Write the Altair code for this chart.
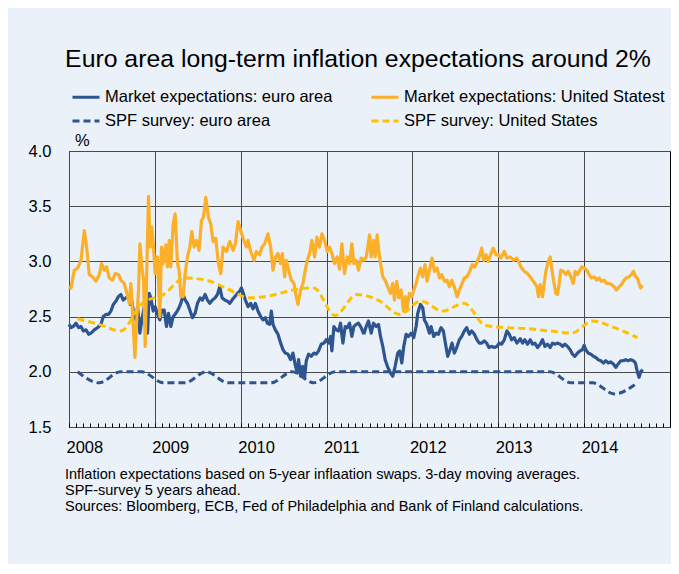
import altair as alt
import pandas as pd

# ---------------- data ----------------
START_YEAR = 2008
TRADING_DAYS_PER_YEAR = 258  # approx. trading days per calendar year

# Market expectations: euro area (trading-day index since 1 Jan 2008, % value)
euro_days = [0, 6, 13, 21, 29, 36, 43, 51, 59, 66, 76, 86, 96, 103, 111, 119, 126, 133, 141, 148,
             156, 163, 171, 179, 184, 189, 194, 201, 206, 213, 219, 226, 231, 236, 241, 246, 253, 259, 266, 273,
             279, 286, 293, 299, 306, 313, 321, 329, 336, 343, 349, 356, 363, 371, 379, 386, 394, 401, 409, 416,
             423, 431, 439, 446, 453,
             460, 468, 476, 483, 490, 498, 506, 513, 518, 524, 530, 538, 546, 553, 560, 568, 576, 583, 590, 596,
             603, 608, 613, 620, 628, 636, 643, 650, 658, 666, 673, 680, 686, 690, 696, 702, 708, 713, 720, 728,
             736, 743, 750, 758, 766, 773, 780, 786, 790, 796, 803, 810, 816, 823, 830, 836, 843, 850, 856, 863,
             870, 878, 886, 893,
             900, 908, 915, 923, 930, 936, 943, 950, 958, 966, 973, 980, 988, 994, 1000, 1006, 1013, 1020, 1028, 1036,
             1043, 1048, 1056, 1063, 1068, 1075, 1083, 1088, 1096, 1103, 1110, 1118, 1125, 1131, 1138, 1145, 1151, 1158, 1165, 1173,
             1180, 1188, 1195, 1203, 1210, 1218, 1226, 1233, 1240, 1248, 1255, 1262, 1270, 1278, 1286, 1293, 1300, 1308, 1316, 1323,
             1330, 1338, 1346,
             1356, 1363, 1370, 1378, 1386, 1393, 1400, 1408, 1416, 1423, 1430, 1438, 1446, 1453, 1460, 1468, 1476, 1483, 1490, 1498,
             1506, 1513, 1520, 1528, 1536, 1543, 1548, 1553, 1560, 1568, 1576, 1583, 1590, 1598, 1606, 1613, 1621, 1628, 1636, 1643,
             1650, 1658, 1666, 1673, 1680, 1688, 1696, 1702, 1708, 1713, 1718, 1724]
euro_vals = [2.43, 2.40, 2.41, 2.44, 2.40, 2.41, 2.37, 2.38, 2.34, 2.35, 2.38, 2.40, 2.43, 2.50, 2.52, 2.52, 2.55, 2.61, 2.64, 2.68,
             2.70, 2.65, 2.67, 2.68, 2.61, 2.64, 2.53, 2.47, 2.59, 2.35, 2.47, 2.59, 2.47, 2.35, 2.71, 2.67, 2.55, 2.59, 2.52, 2.47,
             2.56, 2.56, 2.41, 2.53, 2.41, 2.50, 2.53, 2.57, 2.62, 2.70, 2.65, 2.62, 2.56, 2.49, 2.53, 2.62, 2.67, 2.65, 2.70, 2.65,
             2.62, 2.65, 2.67, 2.70, 2.77,
             2.67, 2.65, 2.64, 2.62, 2.65, 2.68, 2.71, 2.73, 2.76, 2.71, 2.65, 2.59, 2.62, 2.57, 2.62, 2.55, 2.50, 2.47, 2.49, 2.44,
             2.43, 2.55, 2.43, 2.38, 2.34, 2.26, 2.20, 2.17, 2.16, 2.11, 2.17, 2.06, 1.99, 2.11, 1.96, 2.05, 1.95, 2.10, 2.16, 2.14,
             2.17, 2.16, 2.19, 2.25, 2.26, 2.29, 2.26, 2.32, 2.19, 2.41, 2.38, 2.37, 2.44, 2.26, 2.41, 2.40, 2.44, 2.32, 2.41, 2.43,
             2.44, 2.40, 2.34, 2.41,
             2.46, 2.35, 2.44, 2.41, 2.43, 2.32, 2.23, 2.11, 2.04, 1.99, 1.96, 2.05, 2.17, 2.19, 2.08, 2.23, 2.34, 2.32, 2.35, 2.31,
             2.41, 2.53, 2.61, 2.58, 2.47, 2.43, 2.35, 2.41, 2.32, 2.35, 2.34, 2.40, 2.37, 2.26, 2.14, 2.20, 2.26, 2.17, 2.22, 2.29,
             2.32, 2.37, 2.40, 2.34, 2.37, 2.34, 2.29, 2.26, 2.26, 2.28, 2.26, 2.22, 2.23, 2.22, 2.23, 2.26, 2.25, 2.29, 2.37, 2.34,
             2.29, 2.31, 2.26,
             2.30, 2.26, 2.29, 2.25, 2.29, 2.25, 2.26, 2.22, 2.25, 2.29, 2.23, 2.25, 2.22, 2.26, 2.25, 2.26, 2.25, 2.23, 2.25, 2.23,
             2.20, 2.16, 2.14, 2.17, 2.19, 2.20, 2.24, 2.20, 2.17, 2.16, 2.14, 2.13, 2.11, 2.10, 2.08, 2.10, 2.08, 2.09, 2.07, 2.04,
             2.07, 2.10, 2.10, 2.11, 2.10, 2.11, 2.10, 2.08, 2.00, 1.95, 2.00, 2.02]

# Market expectations: United States
us_days = [0, 6, 16, 26, 36, 46, 53, 61, 71, 81, 91, 98, 106, 113, 121, 131, 139, 149, 156, 166,
           174, 181, 186, 191, 198, 203, 209, 213, 219, 224, 229, 233, 239, 244, 249, 254, 259, 266, 273, 278,
           283, 291, 296, 301, 306, 313, 319, 326, 331, 336, 343, 349, 356, 363, 369, 376, 383, 391, 398, 404,
           411, 419, 426, 433, 441, 449, 456,
           463, 473, 483, 493, 500, 508, 516, 523, 533, 538, 546, 556, 563, 573, 580, 588, 598, 606, 613, 621,
           628, 636, 641, 648, 653, 660, 668, 676, 681, 688, 696, 703, 710, 716, 723, 730, 738, 745, 753, 760,
           768, 776, 783, 790, 798, 806, 813, 820, 828, 836, 843, 850, 856, 863, 870, 878, 886, 893,
           898, 903, 908, 915, 920, 926, 933, 938, 943, 950, 958, 966, 973, 978, 985, 991, 998, 1005, 1011, 1016,
           1023, 1030, 1036, 1043, 1050, 1056, 1063, 1070, 1076, 1083, 1091, 1098, 1106, 1113, 1120, 1128, 1136, 1143, 1150, 1158,
           1166, 1173, 1180, 1188, 1196, 1204, 1212, 1220, 1228, 1235, 1240, 1246, 1253, 1260, 1268, 1275, 1283, 1291, 1298, 1308,
           1316, 1326, 1336, 1346,
           1358, 1368, 1378, 1386, 1393, 1400, 1406, 1411, 1416, 1423, 1428, 1433, 1440, 1446, 1450, 1456, 1463, 1468, 1473, 1478,
           1486, 1493, 1500, 1508, 1515, 1521, 1528, 1535, 1541, 1548, 1556, 1563, 1570, 1578, 1586, 1593, 1600, 1608, 1616, 1623,
           1630, 1638, 1645, 1653, 1660, 1668, 1675, 1683, 1690, 1696, 1703, 1708, 1713, 1718, 1724]
us_vals = [2.77, 2.76, 2.92, 2.94, 3.01, 3.28, 3.13, 2.88, 2.86, 2.82, 2.88, 2.98, 2.92, 2.95, 2.85, 2.83, 2.89, 2.88, 2.83, 2.80,
           2.71, 2.62, 2.80, 2.53, 2.13, 2.44, 2.74, 3.16, 2.95, 2.83, 2.23, 2.83, 3.59, 3.13, 3.31, 3.13, 2.89, 3.04, 2.50, 3.13,
           2.98, 3.15, 2.95, 3.19, 2.95, 3.34, 3.43, 2.98, 2.92, 2.68, 2.68, 2.89, 3.04, 3.13, 3.27, 3.13, 3.19, 3.10, 3.37, 3.40,
           3.58, 3.40, 3.34, 3.18, 3.21, 2.98, 2.89,
           3.13, 3.09, 3.18, 3.10, 3.16, 3.36, 3.28, 3.21, 3.13, 3.19, 3.09, 3.01, 3.09, 3.06, 3.13, 3.16, 3.25, 3.13, 2.92, 3.04,
           3.07, 2.98, 3.07, 2.86, 3.01, 2.92, 2.83, 2.80, 2.71, 2.61, 2.74, 2.80, 2.92, 3.01, 3.07, 3.19, 3.04, 3.22, 3.13, 3.25,
           3.19, 3.09, 3.13, 3.07, 2.98, 3.04, 2.93, 3.16, 2.89, 3.04, 2.98, 3.16, 2.98, 3.01, 2.92, 3.03, 3.01, 3.04,
           3.13, 3.24, 3.04, 3.19, 3.04, 3.24, 3.04, 2.95, 2.86, 2.83, 2.77, 2.71, 2.80, 2.65, 2.82, 2.67, 2.74, 2.55, 2.68, 2.58,
           2.71, 2.68, 2.74, 2.80, 2.88, 2.94, 2.86, 2.97, 2.82, 2.92, 3.03, 2.91, 2.94, 2.85, 2.88, 2.82, 2.83, 2.77, 2.83, 2.77,
           2.68, 2.74, 2.79, 2.85, 2.86, 2.91, 2.97, 2.95, 3.01, 3.06, 3.12, 3.01, 3.06, 3.00, 3.07, 3.12, 3.06, 3.06, 3.03, 3.09,
           3.03, 3.04, 3.01, 3.03,
           2.95, 2.91, 2.89, 2.86, 2.83, 2.80, 2.77, 2.68, 2.79, 2.68, 2.80, 2.91, 3.00, 3.04, 2.95, 2.83, 2.71, 2.70, 2.80, 2.92,
           2.91, 2.88, 2.91, 2.86, 2.80, 2.91, 2.88, 2.92, 2.95, 2.94, 2.92, 2.88, 2.85, 2.86, 2.83, 2.85, 2.82, 2.83, 2.80, 2.80,
           2.79, 2.77, 2.74, 2.77, 2.79, 2.83, 2.85, 2.86, 2.88, 2.91, 2.86, 2.85, 2.80, 2.76, 2.78]

# SPF surveys (quarterly, decimal year)
spf_dates = [2008.10, 2008.35, 2008.60, 2008.85, 2009.10, 2009.35, 2009.60, 2009.85, 2010.10, 2010.35,
             2010.60, 2010.85, 2011.10, 2011.35, 2011.60, 2011.85, 2012.10, 2012.35, 2012.60, 2012.85,
             2013.10, 2013.35, 2013.60, 2013.85, 2014.10, 2014.35, 2014.62]
spf_euro = [2.0, 1.9, 2.0, 2.0, 1.9, 1.9, 2.0, 1.9, 1.9, 1.9,
            2.0, 1.9, 2.0, 2.0, 2.0, 2.0, 2.0, 2.0, 2.0, 2.0,
            2.0, 2.0, 2.0, 1.9, 1.9, 1.8, 1.9]
spf_us = [2.48, 2.43, 2.37, 2.62, 2.70, 2.85, 2.83, 2.75, 2.67, 2.69,
          2.74, 2.76, 2.51, 2.70, 2.65, 2.52, 2.64, 2.55, 2.62, 2.42,
          2.40, 2.39, 2.37, 2.35, 2.46, 2.40, 2.31]

SERIES = ["Market expectations: euro area", "Market expectations: United Statest",
          "SPF survey: euro area", "SPF survey: United States"]
COLORS = ["#2F5590", "#FCAF28", "#2F5590", "#FFC000"]
DASHES = [[1, 0], [1, 0], [7, 4], [7, 4]]

YEARS = [2008, 2009, 2010, 2011, 2012, 2013, 2014]
MONTHS = [2008 + k / 12 for k in range(85)]
Y_TICKS = [1.5, 2.0, 2.5, 3.0, 3.5, 4.0]

TITLE = "Euro area long-term inflation expectations around 2%"
NOTES = ("Inflation expectations based on 5-year inflaation swaps. 3-day moving averages.\n"
         "SPF-survey 5 years ahead.\n"
         "Sources: Bloomberg, ECB, Fed of Philadelphia and Bank of Finland calculations.")

# ---------------- tables ----------------
market = pd.concat([
    pd.DataFrame({"year": [START_YEAR + d / TRADING_DAYS_PER_YEAR for d in euro_days],
                  "value": euro_vals, "series": SERIES[0]}),
    pd.DataFrame({"year": [START_YEAR + d / TRADING_DAYS_PER_YEAR for d in us_days],
                  "value": us_vals, "series": SERIES[1]}),
])
survey = pd.concat([
    pd.DataFrame({"year": spf_dates, "value": spf_euro, "series": SERIES[2]}),
    pd.DataFrame({"year": spf_dates, "value": spf_us, "series": SERIES[3]}),
])

W, H = 601, 276
FONT = "Liberation Sans"

x_scale = alt.Scale(domain=[2008, 2015], nice=False, zero=False)
y_scale = alt.Scale(domain=[1.5, 4.0], nice=False, zero=False)
color_scale = alt.Scale(domain=SERIES, range=COLORS)
dash_scale = alt.Scale(domain=SERIES, range=DASHES)

legend = alt.Legend(title=None, orient="none", legendX=2, legendY=-69, columns=2, direction="horizontal",
                    symbolType="stroke", symbolSize=729, symbolStrokeWidth=3,
                    labelFontSize=16.5, labelFont=FONT, labelColor="black", labelOffset=4,
                    columnPadding=32, rowPadding=-6, labelLimit=400)

main_x_axis = alt.Axis(orient="bottom", values=YEARS, format="d", grid=True, ticks=False, domain=False,
                       labelAlign="left", labelOffset=-3, labelPadding=12, labelFontSize=16.5,
                       title=None)
y_axis = alt.Axis(values=Y_TICKS, format=".1f", grid=True, ticks=False, domain=False,
                  labelPadding=18, labelFontSize=16.5, title=None)
minor_x_axis = alt.Axis(orient="top", offset=-H, values=MONTHS,
                        ticks=True, tickSize=4, tickColor="black", tickWidth=1,
                        labels=False, domain=False, grid=False, title=None)

market_lines = alt.Chart(market).mark_line(strokeWidth=3.2, strokeJoin="round").encode(
    x=alt.X("year:Q", scale=x_scale, axis=main_x_axis),
    y=alt.Y("value:Q", scale=y_scale, axis=y_axis),
    color=alt.Color("series:N", scale=color_scale, legend=legend),
    strokeDash=alt.StrokeDash("series:N", scale=dash_scale, legend=legend),
    detail="series:N",
)

survey_lines = alt.Chart(survey).mark_line(strokeWidth=3, interpolate="monotone").encode(
    x=alt.X("year:Q", scale=x_scale, axis=minor_x_axis),
    y=alt.Y("value:Q", scale=y_scale, axis=y_axis),
    color=alt.Color("series:N", scale=color_scale, legend=legend),
    strokeDash=alt.StrokeDash("series:N", scale=dash_scale, legend=legend),
    detail="series:N",
)

title_text = alt.Chart(pd.DataFrame({"t": [TITLE]})).mark_text(
    font=FONT, fontSize=24.8, align="center", baseline="middle", color="black"
).encode(text="t:N", x=alt.value(289), y=alt.value(-91))

pct_text = alt.Chart(pd.DataFrame({"t": ["%"]})).mark_text(
    font=FONT, fontSize=16.5, align="left", baseline="middle", color="black"
).encode(text="t:N", x=alt.value(6), y=alt.value(-10))

notes_text = alt.Chart(pd.DataFrame({"t": [NOTES]})).mark_text(
    font=FONT, fontSize=14.5, align="left", baseline="middle", color="black",
    lineBreak="\n", lineHeight=16,
).encode(text="t:N", x=alt.value(-4), y=alt.value(324))

chart = alt.layer(market_lines, survey_lines, title_text, pct_text, notes_text).resolve_axis(
    x="independent"
).properties(
    width=W, height=H, autosize="none",
    padding={"left": 61, "top": 143, "right": 1, "bottom": 137},
).configure(background="#EAF1F8", font=FONT).configure_view(
    stroke="black", strokeWidth=1, fill="#EAF1F8"
).configure_axis(
    labelColor="black", labelFont=FONT, gridColor="#4a4a4a", gridWidth=1, gridOpacity=1
)

chart.save("out.html", embed_options={"renderer": "svg", "actions": False})
